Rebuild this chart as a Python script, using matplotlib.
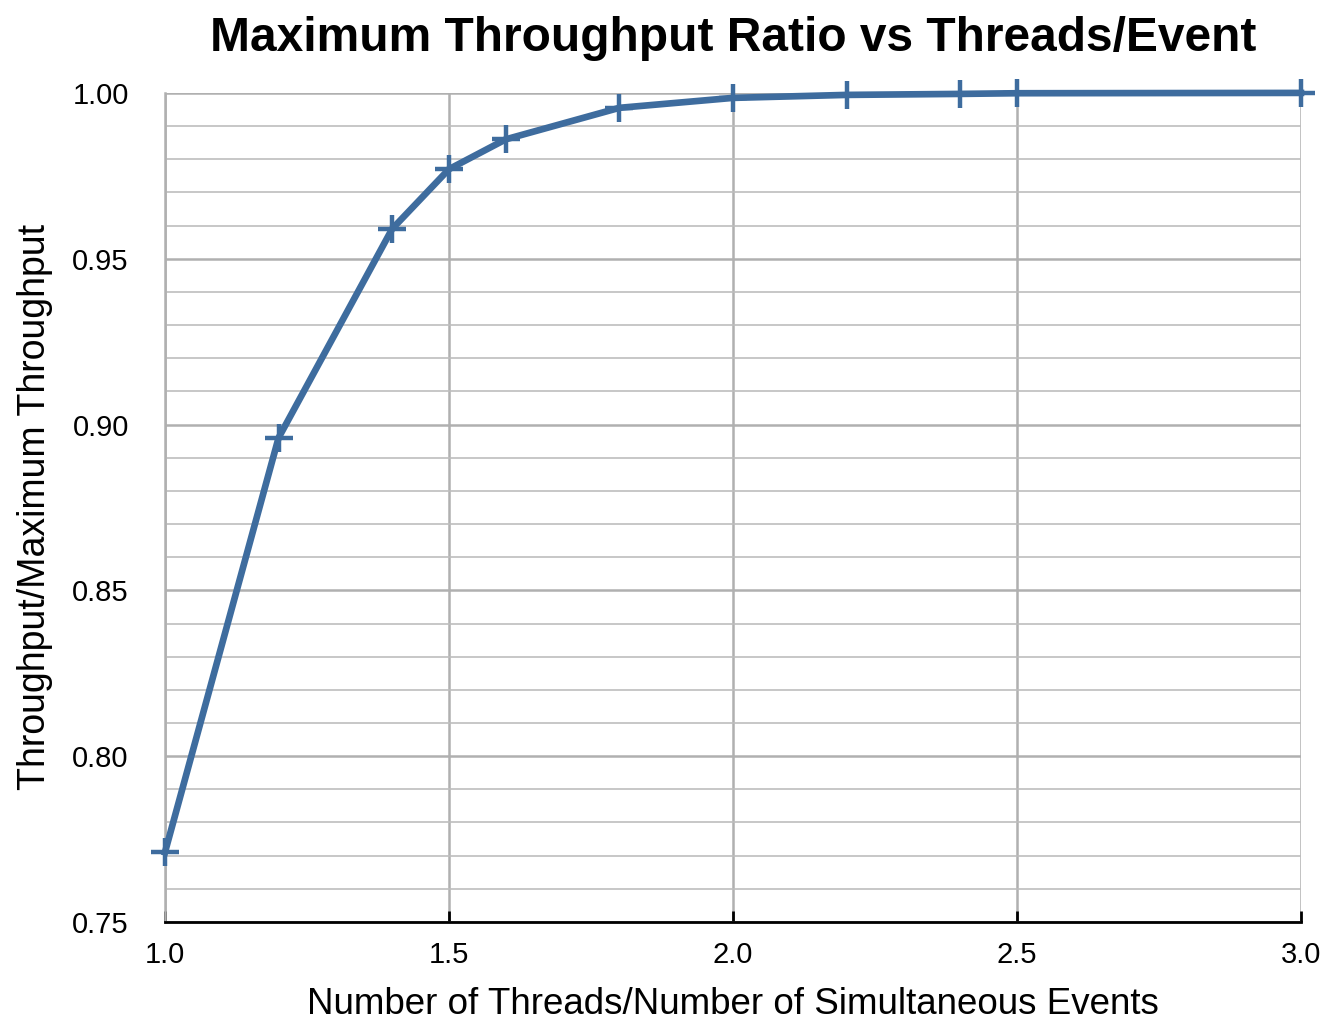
from matplotlib import pyplot as plt
from matplotlib.ticker import MultipleLocator, FormatStrFormatter

# ratio of threads to simultaneous events
threads_ratio = [1.0, 1.2, 1.4, 1.5, 1.6, 1.8, 2.0, 2.2, 2.4, 2.5, 3.0]
# throughput relative to the maximum
throughput_ratio = [0.771, 0.896, 0.959, 0.977, 0.986, 0.9955, 0.9985, 0.9994, 0.9997, 0.9999, 1.0]

x_ticks = [1.0, 1.5, 2.0, 2.5, 3.0]
y_ticks = [0.75, 0.80, 0.85, 0.90, 0.95, 1.00]

plt.rcParams['font.family'] = ['Liberation Sans', 'DejaVu Sans']

fig = plt.figure(figsize=(13.24, 10.21), dpi=100)
ax = fig.add_axes([0.1246, 0.097, 0.858, 0.812])

line_color = '#3e6c9e'
ax.plot(threads_ratio, throughput_ratio, color=line_color, linewidth=4.8,
        marker='+', markersize=20, markeredgewidth=3.2, zorder=3, clip_on=False)

ax.set_xlim(1.0, 3.0)
ax.set_ylim(0.75, 1.0)
ax.set_xticks(x_ticks)
ax.set_yticks(y_ticks)
ax.xaxis.set_major_formatter(FormatStrFormatter('%.1f'))
ax.yaxis.set_major_formatter(FormatStrFormatter('%.2f'))
ax.yaxis.set_minor_locator(MultipleLocator(0.01))

# grid: major lines a touch darker than the minor ones
ax.grid(which='major', color='#b0b0b0', linewidth=1.8)
ax.grid(which='minor', axis='y', color='#bdbdbd', linewidth=1.2)
ax.set_axisbelow(True)

for side in ['top', 'right']:
    ax.spines[side].set_visible(False)
ax.spines['left'].set_color('#b0b0b0')
ax.spines['left'].set_linewidth(1.8)
ax.spines['bottom'].set_color('black')
ax.spines['bottom'].set_linewidth(2.0)

ax.tick_params(axis='x', direction='in', length=8, width=2, colors='black',
               labelsize=21, pad=14)
ax.tick_params(axis='y', which='both', length=0, labelsize=21, pad=26)

ax.set_title('Maximum Throughput Ratio vs Threads/Event', fontsize=34.5,
             fontweight='bold', pad=30)
ax.set_xlabel('Number of Threads/Number of Simultaneous Events', fontsize=26.5, labelpad=13)
ax.set_ylabel('Throughput/Maximum Throughput', fontsize=27, labelpad=14)

fig.savefig('out.png', dpi=100)
